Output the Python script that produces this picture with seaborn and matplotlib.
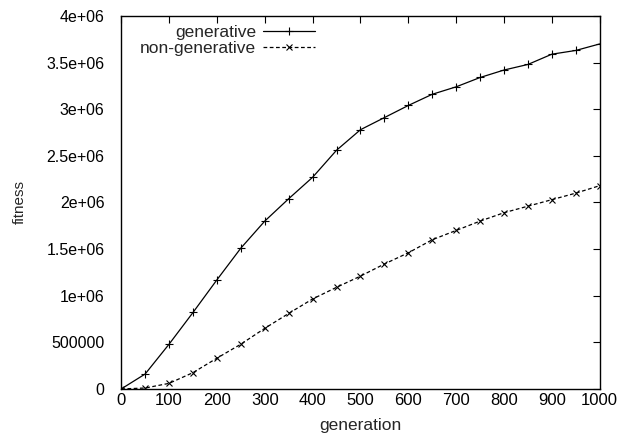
import numpy as np
import pandas as pd
import seaborn as sns
import matplotlib.pyplot as plt

generation = [0, 50, 100, 150, 200, 250, 300, 350, 400, 450, 500,
              550, 600, 650, 700, 750, 800, 850, 900, 950, 1000]
gen_fit = [0, 0.16e6, 0.48e6, 0.82e6, 1.17e6, 1.51e6, 1.80e6, 2.04e6, 2.27e6, 2.56e6, 2.78e6,
           2.91e6, 3.04e6, 3.16e6, 3.24e6, 3.34e6, 3.42e6, 3.48e6, 3.59e6, 3.63e6, 3.70e6]
nongen_fit = [0, 0.01e6, 0.06e6, 0.175e6, 0.33e6, 0.48e6, 0.65e6, 0.81e6, 0.965e6, 1.09e6, 1.21e6,
              1.34e6, 1.46e6, 1.60e6, 1.70e6, 1.80e6, 1.89e6, 1.96e6, 2.03e6, 2.10e6, 2.18e6]

gen_df = pd.DataFrame({"generation": generation, "fitness": gen_fit})
nongen_df = pd.DataFrame({"generation": generation, "fitness": nongen_fit})

sns.set_style("white")
plt.rcParams['font.family'] = ['Liberation Sans', 'DejaVu Sans']

fig = plt.figure(figsize=(6.28, 4.43), dpi=100)
ax = fig.add_axes([0.193, 0.122, 0.762, 0.842])

sns.lineplot(data=gen_df, x="generation", y="fitness", ax=ax, label="generative",
             color="black", linewidth=0.9, linestyle="-", marker="+",
             markersize=5.5, markeredgewidth=0.8, markeredgecolor="black")
sns.lineplot(data=nongen_df, x="generation", y="fitness", ax=ax, label="non-generative",
             color="black", linewidth=0.9, linestyle=(0, (3, 2)), marker="x",
             markersize=4.5, markeredgewidth=0.8, markeredgecolor="black")

ax.set_xlim(0, 1000)
ax.set_ylim(0, 4e6)
ax.set_xticks(np.arange(0, 1001, 100))
ax.set_yticks(np.arange(0, 4.01e6, 0.5e6))
ylabels = ["0", "500000", "1e+06", "1.5e+06", "2e+06", "2.5e+06", "3e+06", "3.5e+06", "4e+06"]
ax.set_yticklabels(ylabels)
ax.tick_params(direction="in", top=True, right=True, length=5, width=0.8, colors="black")
ax.tick_params(axis="x", labelsize=12, pad=3)
ax.tick_params(axis="y", labelsize=11.5, pad=12)
for s in ax.spines.values():
    s.set_color("black")
    s.set_linewidth(1.0)
ax.set_xlabel("generation", fontsize=12.5, labelpad=7)
ax.set_ylabel("fitness", fontsize=11, labelpad=14)

leg = ax.legend(loc="upper right", markerfirst=False, frameon=False, fontsize=12.5,
                handlelength=3.0, handletextpad=0.4, labelspacing=0.05,
                borderaxespad=0, borderpad=0, numpoints=1,
                bbox_to_anchor=(0.405, 0.975))

fig.savefig("out.png", dpi=100)
